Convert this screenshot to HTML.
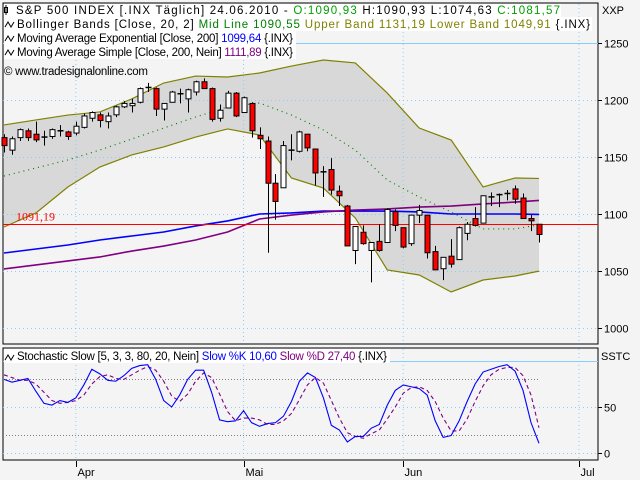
<!DOCTYPE html>
<html><head><meta charset="utf-8"><style>
html,body{margin:0;padding:0;background:#fff}
svg{display:block;font-family:"Liberation Sans",sans-serif}
</style></head><body>
<svg id="chart" width="640" height="480" viewBox="0 0 640 480">
<rect x="0" y="0" width="640" height="480" fill="#f4f4f4"/>
<g id="main"></g>
<g id="stoch"></g>
<g id="axes"></g>
</svg>
<script>
// ---- price data (candles, one per trading day) ----
const opens  = [1167,1156,1167,1173,1170,1167,1168,1173,1172,1171,1176,1184,1187,1181,1187,1194,1195,1198,1211,1210,1192,1198,1206,1201,1207,1216,1210,1184,1193,1206,1189,1197,1169,1164,1127,1123,1156,1155,1170,1157,1137,1139,1120,1107,1068,1084,1068,1076,1075,1102,1088,1074,1099,1099,1067,1052,1063,1060,1083,1096,1092,1115,1117,1118,1122,1114,1096,1091];
const highs  = [1170,1168,1175,1175,1181,1173,1175,1178,1173,1181,1188,1190,1189,1189,1195,1199,1201,1211,1215,1211,1197,1208,1210,1210,1217,1219,1211,1196,1208,1207,1203,1198,1176,1168,1135,1164,1170,1173,1170,1157,1142,1149,1125,1108,1089,1090,1075,1091,1105,1104,1088,1099,1108,1099,1072,1062,1078,1089,1093,1106,1116,1119,1118,1121,1125,1118,1099,1091];
const lows   = [1154,1152,1164,1164,1163,1160,1166,1168,1165,1169,1175,1181,1176,1175,1185,1193,1189,1197,1207,1186,1182,1198,1197,1189,1204,1210,1181,1181,1193,1185,1189,1167,1157,1066,1095,1123,1147,1154,1155,1125,1115,1117,1107,1072,1056,1073,1040,1067,1075,1085,1070,1072,1092,1061,1051,1042,1053,1060,1077,1089,1092,1107,1106,1112,1109,1096,1085,1075];
const closes = [1160,1166,1174,1167,1165,1168,1174,1173,1168,1177,1186,1189,1182,1186,1194,1197,1197,1210,1211,1192,1197,1207,1205,1209,1216,1210,1183,1191,1206,1186,1202,1173,1166,1127,1111,1160,1156,1172,1158,1136,1137,1121,1116,1072,1089,1074,1075,1068,1104,1090,1071,1099,1103,1066,1051,1062,1056,1088,1091,1090,1116,1115,1117,1118,1113,1096,1094,1082];
// ---- indicator lines sampled at candle indices ----
const lineIdx   = [0,4,8,12,16,20,24,28,32,36,40,44,48,52,56,60,64,67];
const upperBand = [1178.1,1182.5,1186.8,1189.5,1200.9,1214.9,1221.0,1220.2,1223.7,1229.8,1235.1,1232.5,1206.1,1175.4,1164.9,1123.7,1131.6,1131.2];
const lowerBand = [1088.6,1100.9,1123.7,1141.2,1151.8,1158.8,1167.5,1174.6,1169.3,1131.6,1122.8,1096.5,1050.9,1046.5,1031.6,1042.1,1045.6,1049.9];
const midLine   = [1133.3,1140.4,1147.4,1156.1,1165.8,1175.4,1185.1,1193.9,1197.4,1186.8,1173.7,1156.1,1129.8,1114.9,1101.8,1086.9,1086.9,1090.6];
const ema200    = [1065.8,1069.3,1072.8,1077.2,1080.7,1084.2,1089.5,1093.9,1100.0,1100.9,1102.6,1102.6,1102.6,1101.8,1100.0,1100.0,1100.0,1099.6];
const sma200    = [1051.8,1055.3,1058.8,1062.3,1067.5,1071.9,1077.2,1084.2,1095.6,1099.1,1101.8,1103.5,1104.4,1106.1,1107.0,1108.8,1110.5,1111.9];
const lastPrice = 1091.19;
const priceTicks = [1250,1200,1150,1100,1050,1000];
const priceTickLabels = ["1250","1200","1150","1100","1050","1000"];
// ---- stochastic ----
const slowK = [80,77,79,81,67,54,52,57,55,60,74,91,86,79,78,84,92,95,96,80,57,50,63,80,90,90,66,36,34,35,46,33,29,32,33,40,56,78,87,82,60,30,25,12,18,18,27,31,52,68,74,72,70,63,35,17,19,35,56,75,88,91,94,96,89,68,33,10.6];
const slowD = [85,82,79,79,75,66,57,54,55,57,63,75,83,85,81,80,85,90,94,90,78,62,56,64,78,87,82,64,45,35,38,38,36,31,31,35,43,58,74,82,76,57,38,22,18,16,21,25,37,50,65,71,72,68,56,38,24,24,37,56,73,85,91,93,93,84,63,27.4];
const stochTicks = [50,0];
const stochTickLabels = ["50","0"];
// ---- time axis ----
const monthIdx = [9,30,50,72];
const monthLabels = ["Apr","Mai","Jun","Jul"];

const NS="http://www.w3.org/2000/svg";
function mk(tag,attrs,parent){const e=document.createElementNS(NS,tag);for(const k in attrs)e.setAttribute(k,attrs[k]);parent.appendChild(e);return e;}
const X0=4, DX=7.985;
function xC(i){return X0+i*DX;}
function yP(p){return 214-(p-1100)*1.14;}
function yS(v){return 453-v*0.92;}
const L=3,R=598;
const main=document.getElementById('main'), st=document.getElementById('stoch'), ax=document.getElementById('axes');

let e=mk('rect',{x:L,y:3,width:R-L,height:341,fill:'#f4f4f4',stroke:'#000'},main);


e=mk('rect',{x:L,y:348,width:R-L,height:112,fill:'#f4f4f4',stroke:'#000'},st);



let up=lineIdx.map((k,j)=>xC(k)+','+yP(upperBand[j]));
let lo=lineIdx.map((k,j)=>xC(k)+','+yP(lowerBand[j])).reverse();
e=mk('polygon',{points:up.concat(lo).join(' '),fill:'#d8d8d8'},main);



const monthX=monthIdx.map(i=>xC(i));
monthX.forEach(x=>{
  e=mk('line',{x1:x,x2:x,y1:4,y2:343,stroke:'#87cefa','stroke-dasharray':'1,3'},main);
  
  
  e=mk('line',{x1:x,x2:x,y1:349,y2:459,stroke:'#87cefa','stroke-dasharray':'1,3'},st);
  
  
});
priceTicks.forEach((p,j)=>{
  const y=Math.round(yP(p))+0.5;
  e=mk('line',{x1:L,x2:R,y1:y,y2:y,stroke:'#87cefa','stroke-dasharray':j==0?'':'1,3'},main);
  
  
});
[100,50,0].forEach(v=>{
  const y=Math.round(yS(v))+0.5;
  e=mk('line',{x1:L,x2:R,y1:y,y2:y,stroke:'#87cefa','stroke-dasharray':v==100?'':'1,3'},st);
  
  
});
[80,20].forEach(v=>{
  const y=Math.round(yS(v))+0.5;
  e=mk('line',{x1:L,x2:xC(67),y1:y,y2:y,stroke:'#808080','stroke-dasharray':'1,2'},st);
  
  
});

function poly(vals,color,extra,name,parent){
  const pts=lineIdx.map((k,j)=>xC(k)+','+yP(vals[j])).join(' ');
  const a={points:pts,fill:'none',stroke:color,'stroke-width':1.2};
  for(const k in extra)a[k]=extra[k];
  const el=mk('polyline',a,parent);
  
  
}
poly(upperBand,'#808000',{},'upper-band',main);
poly(lowerBand,'#808000',{},'lower-band',main);
poly(midLine,'#008000',{'stroke-dasharray':'1,4'},'mid-line',main);
poly(ema200,'#0000ff',{'stroke-width':1.6},'ema-200',main);
poly(sma200,'#800080',{'stroke-width':1.6},'sma-200',main);

const yl=Math.round(yP(lastPrice))+0.5;
e=mk('line',{x1:L,x2:R,y1:yl,y2:yl,stroke:'#ff0000'},main);


e=mk('text',{x:16,y:yl-4,fill:'#ff0000','font-size':12,'font-family':'Liberation Serif, serif'},main);
e.textContent='1091,19';



opens.forEach((o,i)=>{
  const c=closes[i],x=Math.round(xC(i))+0.5;
  const g=mk('g',{},main);
  
  
  mk('line',{x1:x,x2:x,y1:yP(highs[i]),y2:yP(lows[i]),stroke:'#000'},g);
  const t=yP(Math.max(o,c)),b=yP(Math.min(o,c));
  if(b-t<1.5){mk('line',{x1:x-3,x2:x+3,y1:(t+b)/2,y2:(t+b)/2,stroke:'#000','stroke-width':1.5},g);}
  else mk('rect',{x:x-2.5,y:t,width:5,height:b-t,fill:c<o?'#ff0000':'#ffffff',stroke:'#000'},g);
});

function spoly(vals,color,extra,name){
  const pts=vals.map((v,i)=>xC(i)+','+yS(v)).join(' ');
  const a={points:pts,fill:'none',stroke:color,'stroke-width':1.1};
  for(const k in extra)a[k]=extra[k];
  const el=mk('polyline',a,st);
  
  
}
spoly(slowD,'#800080',{'stroke-dasharray':'4,3'},'slow-d-line');
spoly(slowK,'#0000ff',{},'slow-k-line');

priceTicks.forEach((p,j)=>{
  const y=Math.round(yP(p))+0.5;
  mk('line',{x1:R,x2:R+4,y1:y,y2:y,stroke:'#000'},ax);
  const t=mk('text',{x:604,y:y+4,'font-size':11,fill:'#000'},ax);
  t.textContent=priceTickLabels[j];
  
  
});
stochTicks.forEach((v,j)=>{
  const y=Math.round(yS(v))+0.5;
  mk('line',{x1:R,x2:R+4,y1:y,y2:y,stroke:'#000'},ax);
  const t=mk('text',{x:604,y:y+4,'font-size':11,fill:'#000'},ax);
  t.textContent=stochTickLabels[j];
  
  
});
monthX.forEach((x,j)=>{
  const xr=Math.round(x)+0.5;
  mk('line',{x1:xr,x2:xr,y1:461,y2:467,stroke:'#000'},ax);
  const t=mk('text',{x:xr+1,y:476,'font-size':11,fill:'#000'},ax);
  t.textContent=monthLabels[j];
  
  
});
</script>
<svg width="640" height="480" viewBox="0 0 640 480" style="position:absolute;left:0;top:0" font-family="Liberation Sans, sans-serif" font-size="11.5">
  <text x="602" y="14" font-size="11">XXP</text>
  <text x="601" y="360" font-size="11">SSTC</text>
  <g>
    <rect x="4" y="4" width="557" height="13" fill="#fff"/>
    <rect x="4" y="17" width="588" height="14" fill="#fff"/>
    <rect x="4" y="31" width="292" height="14" fill="#fff"/>
    <rect x="4" y="45" width="292" height="14" fill="#fff"/>
    <path d="M6,5 v10 M4.5,7.5 h3 v5 h-3 z" stroke="#000" fill="none"/>
    <path d="M5,27 l3,-5 l3,5 l3,-5" stroke="#000" fill="none"/>
    <path d="M5,41 l3,-5 l3,5 l3,-5" stroke="#000" fill="none"/>
    <path d="M5,55 l3,-5 l3,5 l3,-5" stroke="#000" fill="none"/>
    <text x="16" y="14" textLength="544">S&amp;P 500 INDEX [.INX  Täglich] 24.06.2010 - <tspan fill="#00a000">O:1090,93</tspan> H:1090,93 L:1074,63 <tspan fill="#00a000">C:1081,57</tspan></text>
    <text x="17" y="28" textLength="573">Bollinger Bands [Close, 20, 2] <tspan fill="#008000">Mid Line 1090,55</tspan> <tspan fill="#808000">Upper Band 1131,19 Lower Band 1049,91</tspan> {.INX}</text>
    <text x="17" y="42" textLength="276">Moving Average Exponential [Close, 200] <tspan fill="#0000ff">1099,64</tspan> {.INX}</text>
    <text x="17" y="56" textLength="276">Moving Average Simple [Close, 200, Nein] <tspan fill="#800080">1111,89</tspan> {.INX}</text>
    <text x="4" y="75" textLength="144">© www.tradesignalonline.com</text>
  </g>
  <g>
    <rect x="4" y="349" width="386" height="14" fill="#fff"/>
    <path d="M5,360 l3,-5 l3,5 l3,-5" stroke="#000" fill="none"/>
    <text x="17" y="360" textLength="370">Stochastic Slow [5, 3, 3, 80, 20, Nein] <tspan fill="#0000ff">Slow %K 10,60</tspan> <tspan fill="#800080">Slow %D 27,40</tspan> {.INX}</text>
  </g>
</svg>
</body></html>
